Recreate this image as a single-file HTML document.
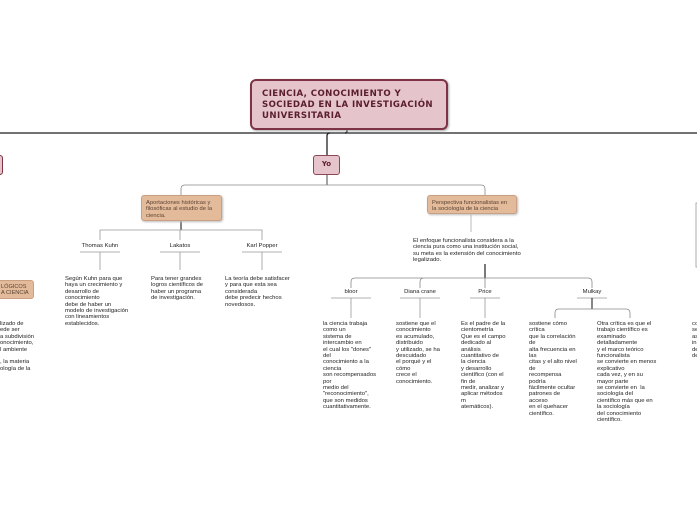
<!DOCTYPE html>
<html><head><meta charset="utf-8"><style>
body{margin:0;width:697px;height:520px;background:#fff;position:relative;overflow:hidden;font-family:"Liberation Sans",sans-serif;}
.t{position:absolute;font-size:5.9px;line-height:6.4px;color:#222;white-space:pre;}
.l{position:absolute;font-size:5.9px;color:#222;text-align:center;width:60px;}
.b{position:absolute;box-sizing:border-box;}
</style></head><body>
<svg width="697" height="520" style="position:absolute;left:0;top:0" fill="none">
<line x1="0" y1="133" x2="697" y2="133" stroke="#444" stroke-width="1.6"/>
<path d="M347 129 V131 Q347 133 345 133" stroke="#333" stroke-width="1.6"/>
<path d="M330 133 Q327 133 327 136 V155" stroke="#222" stroke-width="1.3"/>
<path d="M327 174 V185" stroke="#444" stroke-width="1"/>
<path d="M181 195 V189 Q181 185 185 185 H481 Q485 185 485 189 V195" stroke="#888" stroke-width="0.8"/>
<path d="M181 220 V230" stroke="#333" stroke-width="1.2"/>
<path d="M100 240 V230 H262 V240 M180 230 V240" stroke="#999" stroke-width="0.8"/>
<path d="M80 252 H120 M160 252 H200 M242 252 H282" stroke="#999" stroke-width="0.8"/>
<path d="M100 252 V270 M180 252 V270 M262 252 V270" stroke="#999" stroke-width="0.8"/>
<path d="M471 213 V232" stroke="#aaa" stroke-width="0.8"/>
<path d="M485 264 V278" stroke="#222" stroke-width="1.2"/>
<path d="M351 288 V282 Q351 278 355 278 H588 Q592 278 592 282 V288 M420 288 V282 Q420 278 424 278 M485 278 V288" stroke="#888" stroke-width="0.8"/>
<path d="M331 298 H371 M400 298 H440 M470 298 H500 M577 298 H607" stroke="#999" stroke-width="0.8"/>
<path d="M351 298 V318 M420 298 V318 M485 298 V318" stroke="#999" stroke-width="0.8"/>
<path d="M592 298 V309" stroke="#222" stroke-width="1.1"/>
<path d="M555 318 V313 Q555 309 559 309 H626 Q630 309 630 313 V318" stroke="#888" stroke-width="0.8"/>
<rect x="696" y="203" width="4" height="64" stroke="#999" stroke-width="0.8"/>
</svg>
<div class="b" style="left:250px;top:79px;width:198px;height:51px;background:#e6c4cb;border:2px solid #7d3345;border-radius:6px;box-shadow:1px 1px 2px #aaa;font-family:'DejaVu Sans',sans-serif;font-weight:bold;font-size:8.6px;letter-spacing:0.4px;line-height:11px;color:#5a1e2e;padding:8px 0 0 10px;white-space:nowrap;">CIENCIA, CONOCIMIENTO Y<br>SOCIEDAD EN LA INVESTIGACIÓN<br>UNIVERSITARIA</div>
<div class="b" style="left:-10px;top:155px;width:13px;height:20px;background:#e6c4cb;border:1.5px solid #7d3345;border-radius:3px;"></div>
<div class="b" style="left:313px;top:155px;width:27px;height:20px;background:#e6c4cb;border:1.5px solid #8d4657;border-radius:3px;font-family:'DejaVu Sans',sans-serif;font-weight:bold;font-size:7px;color:#5a1e2e;text-align:center;line-height:17px;">Yo</div>
<div class="b" style="left:141px;top:195px;width:81px;height:26px;background:#e3bb9b;border:1px solid #c9a083;border-radius:3px;box-shadow:1px 1px 2px #bbb;font-size:5.8px;line-height:6.3px;color:#5a4030;padding:4px 0 0 4px;white-space:nowrap;">Aportaciones históricas y<br>filosóficas al estudio de la<br>ciencia.</div>
<div class="b" style="left:427px;top:195px;width:90px;height:19px;background:#e3bb9b;border:1px solid #c9a083;border-radius:3px;box-shadow:1px 1px 2px #bbb;font-size:5.8px;line-height:6.3px;color:#5a4030;padding:4px 0 0 4px;white-space:nowrap;">Perspectiva funcionalistas en<br>la sociología de la ciencia</div>
<div class="b" style="left:-12px;top:280px;width:46px;height:19px;background:#e3bb9b;border:1px solid #c9a083;border-radius:3px;font-size:5.6px;line-height:6.3px;color:#5a4030;padding:3px 0 0 12px;white-space:nowrap;">LÓGICOS<br>A CIENCIA</div>
<div class="l" style="left:70px;top:243px">Thomas Kuhn</div>
<div class="l" style="left:150px;top:243px">Lakatos</div>
<div class="l" style="left:232px;top:243px">Karl Popper</div>
<div class="l" style="left:321px;top:289px">bloor</div>
<div class="l" style="left:390px;top:289px">Diana crane</div>
<div class="l" style="left:455px;top:289px">Price</div>
<div class="l" style="left:562px;top:289px">Mulkay</div>
<div class="t" style="left:65px;top:276px">Según Kuhn para que
haya un crecimiento y
desarrollo de
conocimiento
debe de haber un
modelo de investigación
con lineamientos
establecidos.</div>
<div class="t" style="left:151px;top:276px">Para tener grandes
logros científicos de
haber un programa
de investigación.</div>
<div class="t" style="left:225px;top:276px">La teoría debe satisfacer
y para que esta sea
considerada
debe predecir hechos
novedosos.</div>
<div class="t" style="left:413px;top:238px">El enfoque funcionalista considera a la
ciencia pura como una institución social,
su meta es la extensión del conocimiento
legalizado.</div>
<div class="t" style="left:0px;top:321px">lizado de
ede ser
a subdivisión
onocimiento,
l ambiente

, la materia
ología de la</div>
<div class="t" style="left:323px;top:321px">la ciencia trabaja
como un
sistema de
intercambio en
el cual los "dones"
del
conocimiento a la
ciencia
son recompensados
por
medio del
"reconocimiento",
que son medidos
cuantitativamente.</div>
<div class="t" style="left:396px;top:321px">sostiene que el
conocimiento
es acumulado,
distribuido
y utilizado, se ha
descuidado
el porqué y el
cómo
crece el
conocimiento.</div>
<div class="t" style="left:461px;top:321px">Es el padre de la
cientometría
Que es el campo
dedicado al
análisis
cuantitativo de
la ciencia
y desarrollo
científico (con el
fin de
medir, analizar y
aplicar métodos
m
atemáticos).</div>
<div class="t" style="left:529px;top:321px">sostiene cómo
crítica
que la correlación
de
alta frecuencia en
las
citas y el alto nivel
de
recompensa
podría
fácilmente ocultar
patrones de
acceso
en el quehacer
científico.</div>
<div class="t" style="left:597px;top:321px">Otra crítica es que el
trabajo científico es
examinado
detalladamente
y el marco teórico
funcionalista
se convierte en menos
explicativo
cada vez, y en su
mayor parte
se convierte en  la
sociología del
científico más que en
la sociología
del conocimiento
científico.</div>
<div class="t" style="left:692px;top:321px">co
se
as
in
de
de</div>
</body></html>
